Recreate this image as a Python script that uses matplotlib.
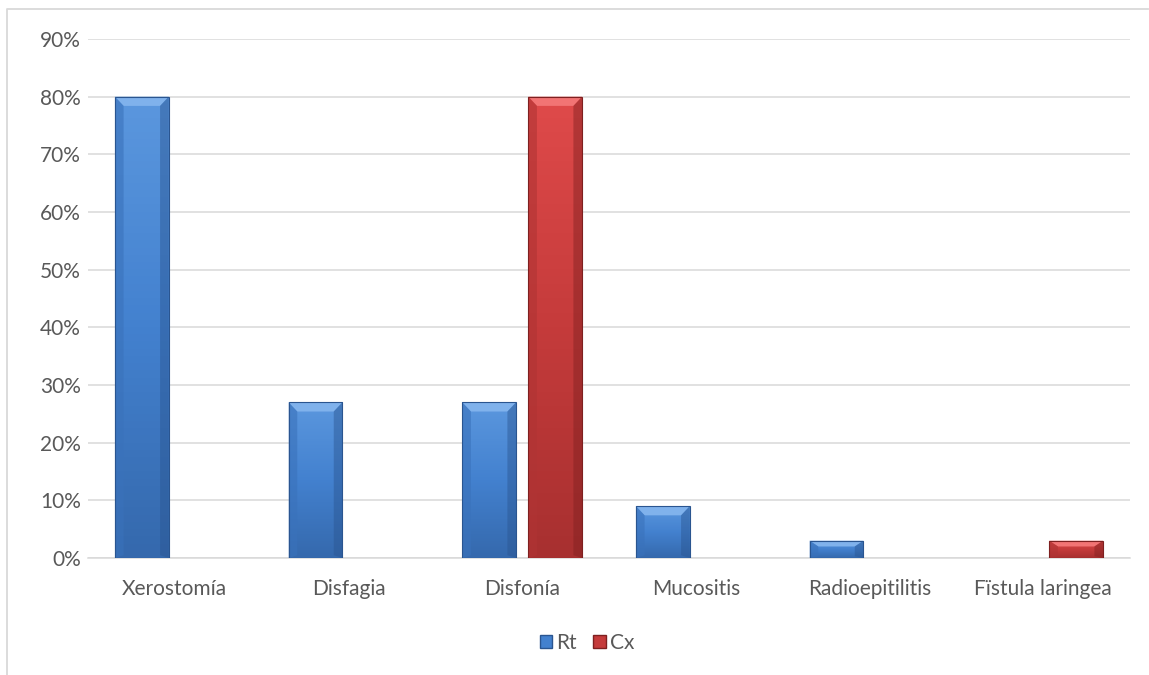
import numpy as np
import matplotlib
matplotlib.use("Agg")
import matplotlib.pyplot as plt
from matplotlib.patches import Polygon, Rectangle, Patch
from matplotlib.colors import LinearSegmentedColormap

plt.rcParams['font.family'] = ['Lato', 'DejaVu Sans']

# 数据
categorias = ['Xerostomía', 'Disfagia', 'Disfonía', 'Mucositis', 'Radioepitilitis', 'Fïstula laringea']
rt = [80, 27, 27, 9, 3, 0]
cx = [0, 0, 80, 0, 0, 3]

fig = plt.figure(figsize=(11.49, 6.75), dpi=100)
ax = fig.add_axes([88 / 1149, 117 / 675, (1130 - 88) / 1149, (636 - 117) / 675])

x = np.arange(len(categorias))
ancho = 0.31
desp = 0.19

estilos = {
    'Rt': dict(top='#5b97de', mid='#4381cf', bot='#3569ad', edge='#2a5590', bevel='#80b2ec', side='#3a72bb'),
    'Cx': dict(top='#df4a4a', mid='#c53b3b', bot='#a83030', edge='#7e2020', bevel='#f27474', side='#b03434'),
}


def bisel(ax, rect, st):
    # relleno degradado + bordes biselados, a partir de la geometría de la barra
    x0, y0 = rect.get_x(), rect.get_y()
    w, h = rect.get_width(), rect.get_height()
    if h <= 0:
        return
    cmap = LinearSegmentedColormap.from_list('g', [st['bot'], st['mid'], st['top']])
    grad = np.linspace(0, 1, 64).reshape(-1, 1)
    im = ax.imshow(grad, extent=[x0, x0 + w, y0, y0 + h], origin='lower', cmap=cmap,
                   aspect='auto', zorder=3)
    im.set_clip_path(rect)
    bx = min(0.05, w / 4)
    by = min(1.6, h / 3)
    x1, y1 = x0 + w, y0 + h
    ax.add_patch(Polygon([[x0, y1], [x1, y1], [x1 - bx, y1 - by], [x0 + bx, y1 - by]],
                         closed=True, fc=st['bevel'], ec='none', zorder=4))
    ax.add_patch(Polygon([[x0, y0], [x0, y1], [x0 + bx, y1 - by], [x0 + bx, y0 + by * 0.3]],
                         closed=True, fc=st['side'], ec='none', alpha=0.6, zorder=4))
    ax.add_patch(Polygon([[x1, y0], [x1, y1], [x1 - bx, y1 - by], [x1 - bx, y0 + by * 0.3]],
                         closed=True, fc=st['edge'], ec='none', alpha=0.45, zorder=4))
    ax.add_patch(Rectangle((x0, y0), w, h, fc='none', ec=st['edge'], lw=0.8, zorder=5))
    # sombra
    ax.add_patch(Rectangle((x0 + 0.004, y0 - 0.25), w, h, fc='#000000', ec='none',
                           alpha=0.08, zorder=2.5))


for vals, off, key in [(rt, -desp, 'Rt'), (cx, desp, 'Cx')]:
    bars = ax.bar(x + off, vals, ancho, color='none', edgecolor='none', zorder=3)
    for b in bars:
        bisel(ax, b, estilos[key])

ax.set_xlim(-0.5, len(categorias) - 0.5)
ax.set_ylim(0, 90)
ax.set_yticks(np.arange(0, 91, 10))
ax.set_yticklabels([f'{v}%' for v in range(0, 91, 10)])
ax.set_xticks(x)
ax.set_xticklabels(categorias)
ax.tick_params(axis='both', length=0, labelsize=15, colors='#595959')
ax.tick_params(axis='x', pad=15)
ax.tick_params(axis='y', pad=5)
ax.grid(axis='y', color='#d9d9d9', lw=1.1, zorder=0)
ax.set_axisbelow(True)
for s in ['top', 'right', 'left']:
    ax.spines[s].set_visible(False)
ax.spines['bottom'].set_color('#d9d9d9')
ax.spines['bottom'].set_linewidth(1.1)

handles = [Patch(fc=estilos['Rt']['mid'], ec=estilos['Rt']['edge'], label='Rt'),
           Patch(fc=estilos['Cx']['mid'], ec=estilos['Cx']['edge'], label='Cx')]
leg = fig.legend(handles=handles, loc='center', bbox_to_anchor=(587 / 1149, 1 - 643 / 675),
                 ncol=2, frameon=False, fontsize=15, handlelength=0.6, handleheight=0.6,
                 handletextpad=0.2, columnspacing=0.8)
for t in leg.get_texts():
    t.set_color('#595959')

# marco del gráfico
fig.add_artist(plt.Line2D([7 / 1149, 7 / 1149, 1148 / 1149], [0, 1 - 9 / 675, 1 - 9 / 675],
                          transform=fig.transFigure, color='#d9d9d9', lw=1.3))

fig.savefig('out.png', dpi=100)
